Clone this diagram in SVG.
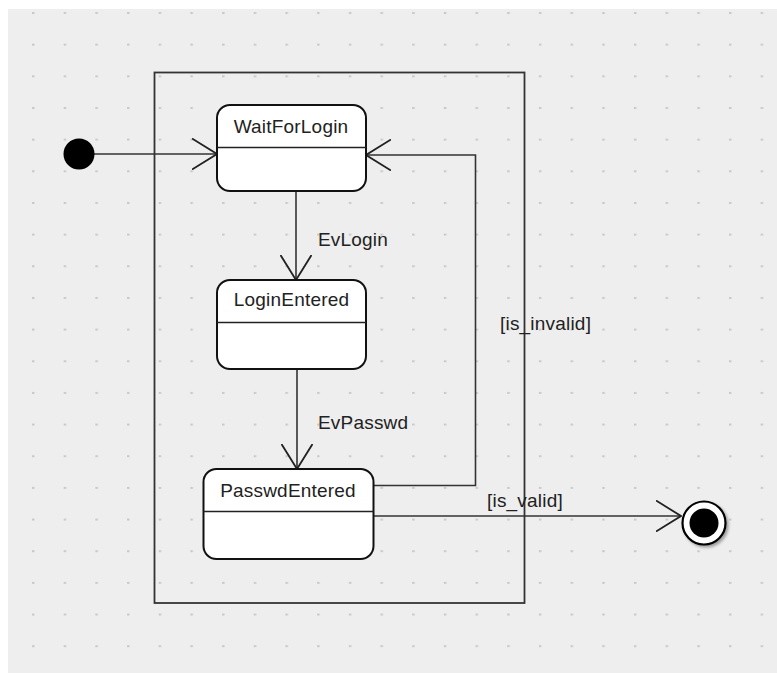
<svg xmlns="http://www.w3.org/2000/svg" width="777" height="673" viewBox="0 0 777 673">
  <defs>
    <pattern id="grid" patternUnits="userSpaceOnUse" x="32" y="12" width="31.68" height="31.66">
      <rect x="0" y="0" width="2.5" height="2" fill="#c9c9c9"/>
    </pattern>
    <filter id="soft" x="-30%" y="-30%" width="160%" height="160%">
      <feGaussianBlur in="SourceAlpha" stdDeviation="1.5"/>
      <feOffset dx="2" dy="2" result="b"/>
      <feComponentTransfer><feFuncA type="linear" slope="0.35"/></feComponentTransfer>
      <feMerge><feMergeNode/><feMergeNode in="SourceGraphic"/></feMerge>
    </filter>
    <marker id="open" viewBox="0 0 26 32" refX="25" refY="16" markerWidth="26" markerHeight="32" markerUnits="userSpaceOnUse" orient="auto">
      <path d="M0,0.5 L25,16 L0,31.5" fill="none" stroke="#222" stroke-width="1.8"/>
    </marker>
  </defs>
  <style>
    .state rect.body { fill: #ffffff; stroke: #111; stroke-width: 2; }
    .state line { stroke: #222; stroke-width: 1.6; }
    .label { font-family: "Liberation Sans", Arial, sans-serif; font-size: 19px; fill: #222; letter-spacing: 0.2px; }
    .name { text-anchor: middle; }
    .edge { fill: none; stroke: #333; stroke-width: 1.6; }
  </style>

  <!-- canvas with dotted grid -->
  <rect x="0" y="0" width="777" height="673" fill="#ffffff"/>
  <rect x="8" y="9" width="769" height="664" fill="#eeeeee"/>
  <rect x="8" y="9" width="769" height="664" fill="url(#grid)"/>

  <!-- composite state frame -->
  <g id="composite">
    <rect x="154.5" y="72.5" width="370" height="530.5" fill="none" stroke="#333" stroke-width="1.8"/>
  </g>

  <!-- transitions -->
  <g id="connectors">
    <line class="edge" x1="92" y1="154" x2="217" y2="154" marker-end="url(#open)"/>
    <line class="edge" x1="296" y1="191" x2="296" y2="280" marker-end="url(#open)"/>
    <line class="edge" x1="297" y1="369" x2="297" y2="469" marker-end="url(#open)"/>
    <polyline class="edge" points="373,485.5 475.5,485.5 475.5,155 366,155" marker-end="url(#open)"/>
    <line class="edge" x1="373" y1="516" x2="681" y2="516" marker-end="url(#open)"/>
    <text class="label" x="318" y="246">EvLogin</text>
    <text class="label" x="318" y="429">EvPasswd</text>
    <text class="label" x="500" y="330">[is_invalid]</text>
    <text class="label" x="487" y="507">[is_valid]</text>
  </g>

  <!-- initial pseudo-state -->
  <g id="initial">
    <circle cx="79" cy="154" r="15.5" fill="#000"/>
  </g>

  <g id="WaitForLogin" class="state">
    <rect class="body" x="217" y="105" width="149" height="86" rx="13" ry="13"/>
    <line x1="217" y1="147.5" x2="366" y2="147.5"/>
    <text class="label name" x="291" y="133">WaitForLogin</text>
  </g>

  <g id="LoginEntered" class="state">
    <rect class="body" x="217" y="280" width="149" height="89" rx="13" ry="13"/>
    <line x1="217" y1="322.5" x2="366" y2="322.5"/>
    <text class="label name" x="291.5" y="306">LoginEntered</text>
  </g>

  <g id="PasswdEntered" class="state">
    <rect class="body" x="203.5" y="469" width="170" height="90" rx="13" ry="13"/>
    <line x1="203.5" y1="511.5" x2="373.5" y2="511.5"/>
    <text class="label name" x="288" y="497">PasswdEntered</text>
  </g>

  <!-- final pseudo-state -->
  <g id="final" filter="url(#soft)">
    <circle cx="704" cy="523" r="21.5" fill="#ffffff" stroke="#000" stroke-width="2.2"/>
    <circle cx="704" cy="523" r="14.5" fill="#000"/>
  </g>
</svg>
